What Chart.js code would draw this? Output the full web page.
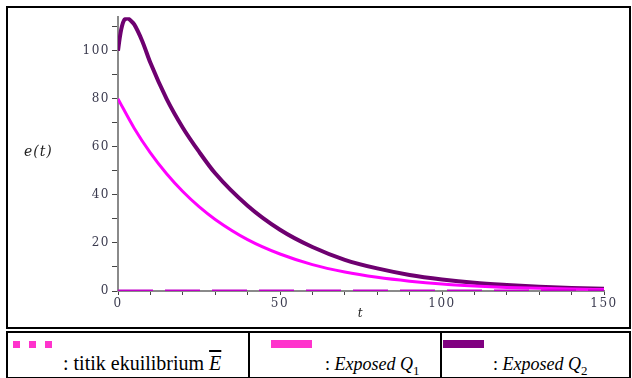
<!DOCTYPE html>
<html>
<head>
<meta charset="utf-8">
<script src="https://cdn.jsdelivr.net/npm/chart.js@4.4.1/dist/chart.umd.min.js"></script>
<style>
  html, body { margin: 0; padding: 0; background: #fff; }
  body { width: 632px; height: 378px; position: relative; overflow: hidden; font-family: 'Liberation Serif', 'Times New Roman', serif; }
  #box { position: absolute; left: 6px; top: 6px; width: 621px; height: 319px; border: 2px solid #000; }
  #box canvas { position: absolute; left: 0; top: 0; }
  .cell { position: absolute; top: 331px; height: 48px; border: 2px solid #000; box-sizing: border-box; }
  .sw { position: absolute; }
  .lbl { position: absolute; color: #000; white-space: nowrap; line-height: 1.15; }
  .lbl sub { font-style: normal; font-size: 0.72em; }
</style>
</head>
<body>
<div id="box"><canvas id="c" width="621" height="319"></canvas></div>

<div class="cell" style="left:6px; width:244px;">
  <div class="sw" style="left:5px; top:8px; width:7px; height:7px; background:#ff33cc;"></div>
  <div class="sw" style="left:21px; top:8px; width:7px; height:7px; background:#ff33cc;"></div>
  <div class="sw" style="left:37px; top:8px; width:7px; height:7px; background:#ff33cc;"></div>
  <div class="lbl" style="left:55px; top:19px; font-size:20px;">: titik ekuilibrium <i style="text-decoration: overline;">E</i></div>
</div>
<div class="cell" style="left:248px; width:194px; border-left:none;">
  <div class="sw" style="left:23px; top:7px; width:41px; height:8px; background:#ff33cc;"></div>
  <div class="lbl" style="left:77px; top:21px; font-size:18px;">: <i>Exposed Q</i><sub>1</sub></div>
</div>
<div class="cell" style="left:440px; width:191px; border-left:none;">
  <div class="sw" style="left:3px; top:7px; width:41px; height:8px; background:#800080;"></div>
  <div class="lbl" style="left:53px; top:21px; font-size:18px;">: <i>Exposed Q</i><sub>2</sub></div>
</div>

<script>
// values
const tQ1 = [0, 5, 10, 15, 20, 25, 30, 40, 50, 60, 70, 80, 90, 100, 110, 120, 130, 140, 150];
const eQ1 = [80, 67.8, 57.5, 48.8, 41.4, 35.1, 29.8, 21.4, 15.4, 11.0, 7.9, 5.7, 4.1, 2.9, 2.1, 1.5, 1.1, 0.8, 0.6];

const tQ2 = [0, 0.5, 1, 2, 3, 4, 5, 7.5, 10, 15, 20, 25, 30, 40, 50, 60, 70, 80, 90, 100, 110, 120, 130, 140, 150];
const eQ2 = [100, 105, 109, 113, 113.5, 112.5, 111, 104, 95, 80, 68, 58, 49, 35.5, 25.5, 18.3, 13, 9.4, 6.7, 4.8, 3.4, 2.5, 1.8, 1.3, 0.9];

const tEq = [0, 150];
const eEq = [0, 0];

const xLabels = [0, 50, 100, 150];
const yLabels = [0, 20, 40, 60, 80, 100];

const pts = (xs, ys) => xs.map((x, i) => ({ x: x, y: ys[i] }));

const tickFont = { family: "'DejaVu Serif', serif", size: 12 };
const tickColor = '#3b3b4f';

// Maple style: horizontal "e(t)" label left of the y axis
const yTitle = {
  id: 'yTitle',
  afterDraw(chart) {
    const ctx = chart.ctx;
    ctx.save();
    ctx.letterSpacing = '1px';
    ctx.font = "italic 14px 'DejaVu Serif', serif";
    ctx.fillStyle = '#222';
    ctx.textAlign = 'left';
    ctx.textBaseline = 'middle';
    ctx.fillText('e(t)', 16, 144);
    ctx.restore();
  }
};

const spacing = {
  id: 'spacing',
  beforeDraw(chart) { chart.ctx.letterSpacing = '1.5px'; }
};

new Chart(document.getElementById('c').getContext('2d'), {
  type: 'line',
  data: {
    datasets: [
      {
        label: 'titik ekuilibrium',
        data: pts(tEq, eEq),
        borderColor: '#c000c8',
        borderWidth: 3,
        borderDash: [35, 12],
        pointRadius: 0
      },
      {
        label: 'Exposed Q1',
        data: pts(tQ1, eQ1),
        borderColor: '#ff00ff',
        borderWidth: 3,
        cubicInterpolationMode: 'monotone',
        pointRadius: 0
      },
      {
        label: 'Exposed Q2',
        data: pts(tQ2, eQ2),
        borderColor: '#6e0070',
        borderWidth: 4,
        cubicInterpolationMode: 'monotone',
        pointRadius: 0
      }
    ]
  },
  options: {
    responsive: false,
    animation: false,
    layout: { padding: { left: 0, right: 25, top: 7, bottom: 0 } },
    plugins: { legend: { display: false }, tooltip: { enabled: false } },
    scales: {
      x: {
        type: 'linear',
        min: 0,
        max: 150,
        afterFit: s => { s.height = 36; },
        border: { color: '#8a8a8a', width: 2 },
        grid: { drawOnChartArea: false, drawTicks: true, tickLength: 4, color: '#444' },
        ticks: {
          stepSize: 10,
          padding: 2,
          maxRotation: 0,
          autoSkip: false,
          color: tickColor,
          font: tickFont,
          callback: v => xLabels.includes(v) ? String(v) : ''
        },
        title: { display: true, text: 't', color: '#222', font: { family: "'DejaVu Serif', serif", size: 12, style: 'italic' }, padding: { top: 0, bottom: 6 } }
      },
      y: {
        type: 'linear',
        min: 0,
        max: 114,
        afterFit: s => { s.width = 110; },
        border: { color: '#8a8a8a', width: 2 },
        grid: { drawOnChartArea: false, drawTicks: true, tickLength: 6, color: '#444' },
        ticks: {
          stepSize: 10,
          includeBounds: false,
          padding: 2,
          autoSkip: false,
          color: tickColor,
          font: tickFont,
          callback: v => yLabels.includes(v) ? String(v) : ''
        }
      }
    }
  },
  plugins: [spacing, yTitle]
});
</script>
</body>
</html>
